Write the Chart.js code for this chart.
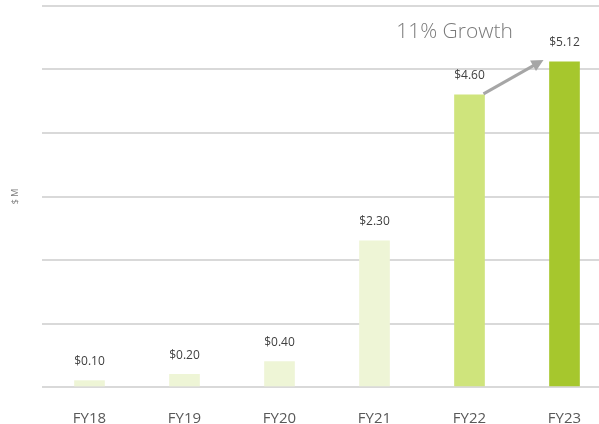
<!DOCTYPE html>
<html>
<head>
<meta charset="utf-8">
<script src="https://cdn.jsdelivr.net/npm/chart.js@4"></script>
<style>
  html, body { margin: 0; padding: 0; background: #fff; overflow: hidden; }
  .chart-box { position: relative; width: 612px; height: 424px; }
</style>
</head>
<body>
<div class="chart-box"><canvas id="revenueChart"></canvas></div>
<script>
  // 数据
  const years = ['FY18', 'FY19', 'FY20', 'FY21', 'FY22', 'FY23'];
  const revenue = [0.10, 0.20, 0.40, 2.30, 4.60, 5.12];
  const barColors = ['#EEF5D6', '#EEF5D6', '#EEF5D6', '#EEF5D6', '#CFE47C', '#A6C72D'];
  const growthText = '11% Growth';

  // 柱子上方的数值标签
  const valueLabels = {
    id: 'valueLabels',
    afterDatasetsDraw(chart) {
      const ctx = chart.ctx;
      const meta = chart.getDatasetMeta(0);
      ctx.save();
      ctx.font = '12px "Open Sans"';
      ctx.fillStyle = '#404040';
      ctx.textAlign = 'center';
      ctx.textBaseline = 'middle';
      meta.data.forEach((bar, i) => {
        ctx.fillText('$' + revenue[i].toFixed(2), bar.x, bar.y - 19);
      });
      ctx.restore();
    }
  };

  // 增长箭头和文字
  const growthArrow = {
    id: 'growthArrow',
    afterDatasetsDraw(chart) {
      const ctx = chart.ctx;
      const meta = chart.getDatasetMeta(0);
      const from = meta.data[4], to = meta.data[5];
      const x1 = from.x + 14, y1 = from.y - 1;
      const x2 = to.x - 21, y2 = to.y - 2;
      const ang = Math.atan2(y2 - y1, x2 - x1);
      ctx.save();
      ctx.strokeStyle = '#A6A6A6';
      ctx.fillStyle = '#A6A6A6';
      ctx.lineWidth = 3;
      ctx.beginPath();
      ctx.moveTo(x1, y1);
      ctx.lineTo(x2 - 8 * Math.cos(ang), y2 - 8 * Math.sin(ang));
      ctx.stroke();
      ctx.beginPath();
      ctx.moveTo(x2, y2);
      ctx.lineTo(x2 - 12 * Math.cos(ang) + 6 * Math.sin(ang), y2 - 12 * Math.sin(ang) - 6 * Math.cos(ang));
      ctx.lineTo(x2 - 12 * Math.cos(ang) - 6 * Math.sin(ang), y2 - 12 * Math.sin(ang) + 6 * Math.cos(ang));
      ctx.closePath();
      ctx.fill();
      ctx.font = '300 21px "Open Sans"';
      ctx.fillStyle = '#7A7A7A';
      ctx.textAlign = 'center';
      ctx.textBaseline = 'middle';
      ctx.fillText(growthText, from.x - 15, 32);
      ctx.restore();
    }
  };

  const chartData = {
    labels: years,
    datasets: [{
      data: revenue,
      backgroundColor: barColors,
      borderWidth: 0,
      barThickness: 30
    }]
  };

  const config = {
    type: 'bar',
    data: chartData,
    options: {
      responsive: true,
      maintainAspectRatio: false,
      animation: false,
      layout: { padding: { top: 6, right: 0, left: 0, bottom: 0 } },
      plugins: {
        legend: { display: false },
        tooltip: { enabled: false }
      },
      scales: {
        x: {
          grid: { display: false },
          border: { display: false },
          ticks: {
            color: '#595959',
            font: { family: 'Open Sans', size: 15 },
            padding: 15
          },
          afterFit(scale) { scale.height = 37; }
        },
        y: {
          min: 0,
          max: 6,
          ticks: { display: false, stepSize: 1 },
          border: { display: false },
          grid: { color: '#D9D9D9', lineWidth: 2, drawTicks: false },
          title: {
            display: true,
            text: '$ M',
            color: '#7F7F7F',
            font: { family: 'Open Sans', size: 9 },
            padding: { top: 10, bottom: 0 }
          },
          afterFit(scale) { scale.width = 42; }
        }
      }
    },
    plugins: [valueLabels, growthArrow]
  };

  const revenueChart = new Chart(document.getElementById('revenueChart'), config);
</script>
</body>
</html>
